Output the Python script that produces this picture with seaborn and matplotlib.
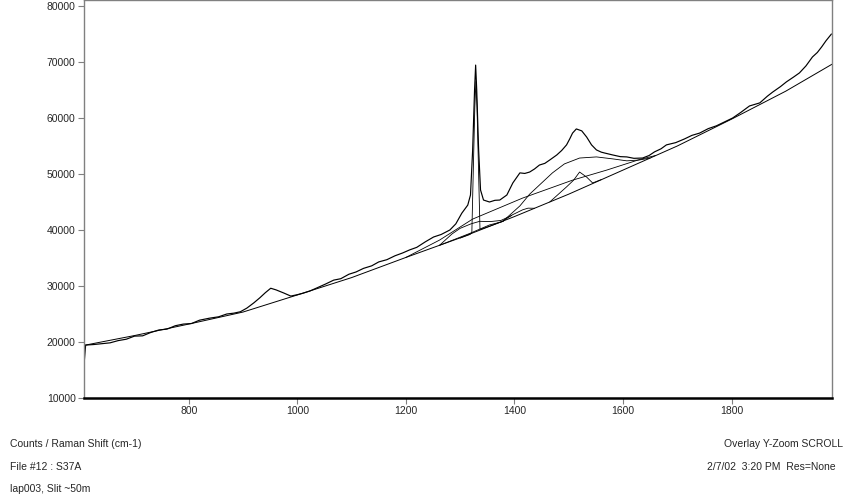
import matplotlib
matplotlib.use("Agg")
import matplotlib.pyplot as plt
import seaborn as sns

# measured spectrum (Raman shift cm-1 / counts)
spectrum_x = [607, 610, 625, 640, 655, 670, 685, 700, 715, 730, 745, 760, 775, 790,
              805, 820, 838, 855, 870, 883, 895, 907, 920, 931, 941, 951, 961, 975,
              988, 1000, 1010, 1023, 1037, 1052, 1067, 1080, 1095, 1108, 1122, 1137,
              1150, 1165, 1180, 1194, 1207, 1220, 1236, 1251, 1265, 1281, 1292, 1303,
              1314, 1319, 1323, 1326.5, 1328.5, 1330.5, 1334, 1337.5, 1343, 1354,
              1364, 1373, 1386, 1397, 1410, 1419, 1428, 1437, 1446, 1456, 1465, 1478,
              1487, 1496, 1502, 1507, 1514, 1524, 1533, 1542, 1551, 1560, 1566, 1581,
              1595, 1607, 1620, 1636, 1648, 1658, 1670, 1680, 1697, 1713, 1727, 1741,
              1757, 1772, 1787, 1802, 1817, 1833, 1852, 1866, 1876, 1890, 1901, 1914,
              1925, 1937, 1949, 1958, 1966, 1974, 1984]
spectrum_y = [15900, 19450, 19550, 19700, 19850, 20250, 20500, 21050, 21100, 21700,
              22150, 22300, 22900, 23200, 23300, 23900, 24250, 24500, 25000, 25150,
              25400, 26050, 27000, 27900, 28800, 29600, 29300, 28750, 28200, 28450,
              28700, 29100, 29700, 30350, 31050, 31300, 32100, 32500, 33150, 33600,
              34300, 34700, 35400, 35900, 36450, 36900, 37900, 38750, 39200, 40000,
              41100, 43000, 44450, 46250, 54300, 65000, 69450, 65000, 54300, 47150,
              45350, 45000, 45300, 45350, 46250, 48400, 50200, 50100, 50350, 50900,
              51600, 51900, 52500, 53400, 54200, 55200, 56300, 57300, 58050, 57700,
              56600, 55200, 54300, 53900, 53750, 53400, 53100, 53050, 52800, 52850,
              53300, 53950, 54500, 55200, 55600, 56250, 56900, 57300, 58100, 58600,
              59300, 60000, 61000, 62150, 62700, 63900, 64650, 65600, 66450, 67300,
              68050, 69300, 70900, 71700, 72700, 73800, 75000]

# fitted baseline
baseline_x = [607, 700, 800, 900, 1000, 1100, 1200, 1300, 1400, 1500, 1600, 1700, 1800, 1900, 1985]
baseline_y = [19400, 21150, 23200, 25350, 28400, 31500, 35100, 38600, 42400, 46400, 50700,
              55000, 59800, 64800, 69600]

# fitted components (each drawn on top of the baseline)
diamond_x = [1300, 1318, 1321.5, 1324, 1327, 1329, 1331, 1334, 1336.5, 1355, 1380]
diamond_y = [38560, 39200, 39500, 50000, 62000, 66500, 62000, 50000, 40100, 40700, 41600]

dband_x = [1262, 1285, 1300, 1320, 1336, 1355, 1375, 1395]
dband_y = [37270, 39300, 40300, 41100, 41550, 41500, 41700, 42600]

broad_x = [1200, 1262, 1323, 1415, 1507, 1570, 1631, 1660]
broad_y = [35100, 38200, 41950, 45700, 48900, 50700, 52600, 53300]

gband_x = [1262, 1318, 1354, 1378, 1410, 1428, 1470, 1492, 1520, 1551, 1581, 1607, 1630, 1650]
gband_y = [37270, 39400, 40900, 41500, 44300, 46400, 50200, 51800, 52850, 53050, 52700,
           52350, 52500, 52850]

bump_x = [1378, 1396, 1415, 1425, 1437]
bump_y = [41560, 42700, 43600, 43900, 43880]

peak_x = [1465, 1496, 1509, 1520, 1533, 1544, 1560]
peak_y = [45000, 47700, 48900, 50350, 49450, 48400, 49000]

sns.set_style("white")
plt.rcParams["font.family"] = ["Liberation Sans", "DejaVu Sans"]

fig = plt.figure(figsize=(8.56, 5.0), dpi=100)
ax = fig.add_axes([84 / 856, 102 / 500, 748 / 856, 398 / 500])

sns.lineplot(x=baseline_x, y=baseline_y, color="black", lw=0.7, ax=ax, estimator=None, sort=False)
for cx, cy in [(broad_x, broad_y), (gband_x, gband_y), (dband_x, dband_y),
               (bump_x, bump_y), (peak_x, peak_y), (diamond_x, diamond_y)]:
    sns.lineplot(x=cx, y=cy, color="black", lw=0.6, ax=ax, estimator=None, sort=False)
sns.lineplot(x=spectrum_x, y=spectrum_y, color="black", lw=0.85, ax=ax, estimator=None, sort=False)

ax.set_xlim(607, 1985)
ax.set_ylim(10000, 81071)
ax.set_xticks([800, 1000, 1200, 1400, 1600, 1800])
ax.set_yticks([10000, 20000, 30000, 40000, 50000, 60000, 70000, 80000])
ax.tick_params(axis="both", direction="out", length=4, width=0.8, color="#808080",
               labelsize=7.5, pad=2, bottom=True, left=True)
for side in ["left", "right", "top"]:
    ax.spines[side].set_color("#808080")
    ax.spines[side].set_linewidth(1.0)
ax.spines["bottom"].set_color("black")
ax.spines["bottom"].set_linewidth(1.8)

fs = 7.5
fig.text(10 / 856, 1 - 444 / 500, "Counts / Raman Shift (cm-1)", fontsize=fs, va="center")
fig.text(10 / 856, 1 - 467 / 500, "File #12 : S37A", fontsize=fs, va="center")
fig.text(10 / 856, 1 - 489 / 500, "lap003, Slit ~50m", fontsize=fs, va="center")
fig.text(843 / 856, 1 - 444 / 500, "Overlay Y-Zoom SCROLL", fontsize=fs, va="center", ha="right")
fig.text(836 / 856, 1 - 467 / 500, "2/7/02  3:20 PM  Res=None", fontsize=fs, va="center", ha="right")

fig.savefig("out.png", dpi=100, facecolor="white")
